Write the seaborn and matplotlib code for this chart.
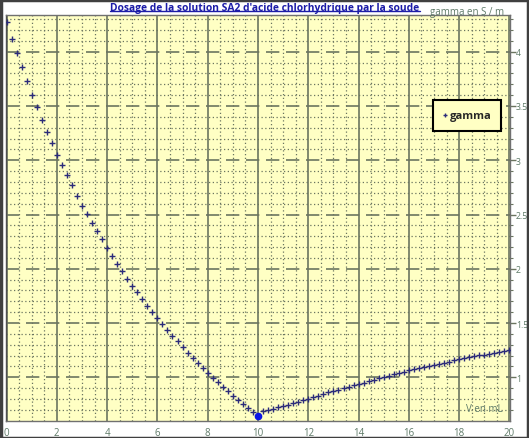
import matplotlib
matplotlib.use("Agg")
import matplotlib.pyplot as plt
import matplotlib.ticker as mticker
from matplotlib.lines import Line2D
from matplotlib.patches import Rectangle
import seaborn as sns

# volume de soude (mL) et conductivite gamma (S/m)
v_desc = [0.0, 0.2, 0.4, 0.6, 0.8, 1.0, 1.2, 1.4, 1.6, 1.8,
          2.0, 2.2, 2.4, 2.6, 2.8, 3.0, 3.2, 3.4, 3.6, 3.8,
          4.0, 4.2, 4.4, 4.6, 4.8, 5.0, 5.2, 5.4, 5.6, 5.8,
          6.0, 6.2, 6.4, 6.6, 6.8, 7.0, 7.2, 7.4, 7.6, 7.8,
          8.0, 8.2, 8.4, 8.6, 8.8, 9.0, 9.2, 9.4, 9.6, 9.8]
g_desc = [4.27, 4.12, 3.99, 3.86, 3.73, 3.60, 3.49, 3.37, 3.26, 3.16,
          3.05, 2.96, 2.865, 2.77, 2.675, 2.58, 2.505, 2.42, 2.345, 2.27,
          2.19, 2.115, 2.045, 1.975, 1.91, 1.845, 1.785, 1.72, 1.66, 1.605,
          1.545, 1.49, 1.437, 1.385, 1.333, 1.278, 1.226, 1.177, 1.132, 1.085,
          1.039, 0.998, 0.956, 0.913, 0.873, 0.832, 0.795, 0.756, 0.716, 0.68]
v_eq = [10.0]
g_eq = [0.645]
v_rise = [10.2, 10.4, 10.6, 10.8, 11.0, 11.2, 11.4, 11.6, 11.8, 12.0,
          12.2, 12.4, 12.6, 12.8, 13.0, 13.2, 13.4, 13.6, 13.8, 14.0,
          14.2, 14.4, 14.6, 14.8, 15.0, 15.2, 15.4, 15.6, 15.8, 16.0,
          16.2, 16.4, 16.6, 16.8, 17.0, 17.2, 17.4, 17.6, 17.8, 18.0,
          18.2, 18.4, 18.6, 18.8, 19.0, 19.2, 19.4, 19.6, 19.8, 20.0]
g_rise = [0.685, 0.697, 0.709, 0.722, 0.735, 0.749, 0.762, 0.776, 0.790, 0.804,
          0.818, 0.832, 0.846, 0.860, 0.873, 0.887, 0.900, 0.913, 0.926, 0.939,
          0.952, 0.965, 0.978, 0.990, 1.003, 1.015, 1.027, 1.039, 1.051, 1.063,
          1.074, 1.085, 1.095, 1.105, 1.115, 1.125, 1.135, 1.145, 1.155, 1.165,
          1.174, 1.183, 1.192, 1.201, 1.210, 1.218, 1.226, 1.234, 1.242, 1.250]

title = "Dosage de la solution SA2 d'acide chlorhydrique par la soude"
y_label = "gamma en S / m"
x_label = "V en mL"
series_name = "gamma"

sns.set_style("white", {"axes.facecolor": "#ffffc4"})
plt.rcParams['font.family'] = ['Open Sans', 'DejaVu Sans']

W, H = 529, 439
fig = plt.figure(figsize=(W / 100, H / 100), dpi=100)
ax = fig.add_axes([6 / W, 1 - 421.5 / H, 504 / W, 405.8 / H])

marker_col = "#2b2b7a"
grid_col = "#6b7560"
lab_col = "#5e7a68"

sns.scatterplot(x=v_desc + v_rise, y=g_desc + g_rise, marker="+", s=22,
                color=marker_col, linewidth=1.0, ax=ax, label=series_name,
                zorder=4, clip_on=True)
ax.plot(v_eq, g_eq, "o", ms=4.5, color="#0a14e6", zorder=5)

ax.set_xlim(-0.02, 20.02)
ax.set_ylim(0.602, 4.341)

ax.xaxis.set_major_locator(mticker.MultipleLocator(2))
ax.xaxis.set_minor_locator(mticker.MultipleLocator(0.5))
ax.yaxis.set_major_locator(mticker.MultipleLocator(0.5))
ax.yaxis.set_minor_locator(mticker.MultipleLocator(0.1))
ax.yaxis.set_major_formatter(mticker.FuncFormatter(lambda v, p: "%g" % v))

ax.grid(False)
ax.xaxis.grid(True, which="major", color=grid_col, ls="-", lw=1.2)
ax.xaxis.grid(True, which="minor", color=grid_col, ls=(0, (1, 2)), lw=0.9)
ax.yaxis.grid(True, which="major", color=grid_col, ls=(0, (8, 4)), lw=1.2)
ax.yaxis.grid(True, which="minor", color=grid_col, ls=(0, (1, 2)), lw=0.9)
ax.set_axisbelow(True)

ax.yaxis.tick_right()
ax.tick_params(axis="x", which="major", direction="out", length=4, width=1,
               color=grid_col, labelsize=7, labelcolor=lab_col, pad=1)
ax.tick_params(axis="x", which="minor", direction="out", length=2, width=0.8,
               color=grid_col)
ax.tick_params(axis="y", which="major", direction="out", length=4, width=1,
               color=grid_col, labelsize=6.3, labelcolor=lab_col, pad=0.3,
               right=True, left=False)
ax.tick_params(axis="y", which="minor", direction="out", length=2, width=0.8,
               color=grid_col, right=True, left=False)
for s in ax.spines.values():
    s.set_color("#707070")
    s.set_linewidth(1)
ax.spines["left"].set_color("#505050")

ax.set_xlabel("")
ax.set_ylabel("")
ax.text(0.985, 0.015, x_label, transform=ax.transAxes, ha="right", va="bottom",
        fontsize=7, color=lab_col)
fig.text(467 / W, 1 - 12.5 / H, y_label, ha="center", va="center",
         fontsize=7, color=lab_col, zorder=10)

t = fig.text(265 / W, 1 - 8 / H, title, ha="center", va="center",
             fontsize=7.4, fontweight="bold", color="#1c1ca8")
fig.canvas.draw()
bb = t.get_window_extent().transformed(fig.transFigure.inverted())
fig.add_artist(Line2D([bb.x0, bb.x1], [bb.y0 + 0.003, bb.y0 + 0.003],
                      transform=fig.transFigure, color="#1c1ca8", lw=1))

leg = ax.legend(loc="center", bbox_to_anchor=(467 / W, 1 - 116.5 / H),
                bbox_transform=fig.transFigure, frameon=True, fancybox=False,
                framealpha=1, edgecolor="black", handlelength=0.4,
                handletextpad=0.2, borderpad=0.9, markerscale=0.6,
                prop={"weight": "bold", "size": 8})
leg.get_frame().set_linewidth(1.5)

fig.add_artist(Rectangle((0.001, 0.001), 0.998, 0.997, transform=fig.transFigure,
                         fill=False, edgecolor="#404040", lw=2.5))

fig.savefig("out.png", dpi=100)
